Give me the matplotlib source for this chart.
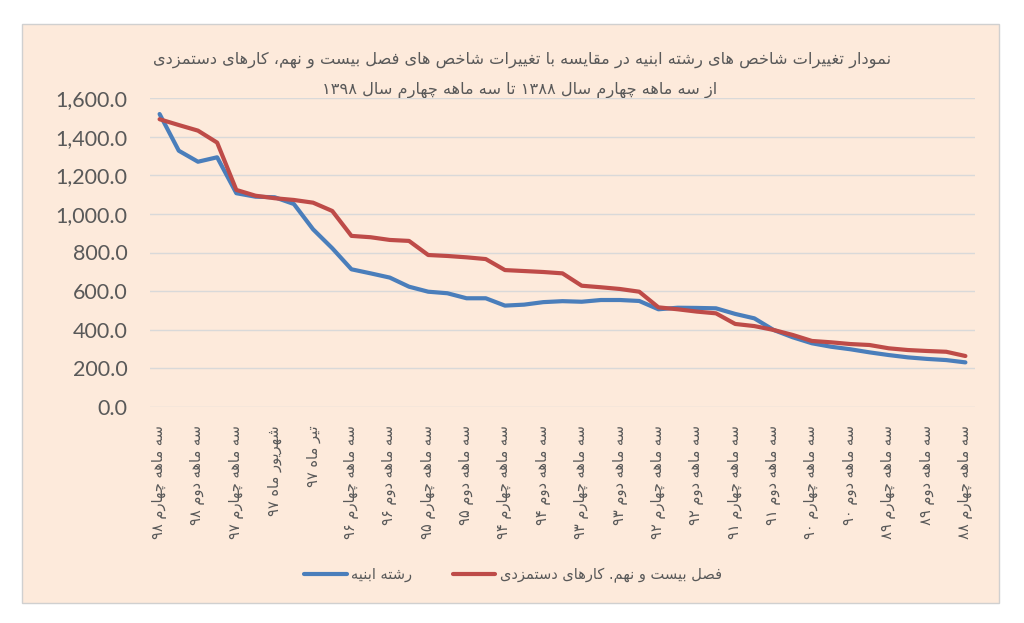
import matplotlib
matplotlib.use('Agg')
import matplotlib.pyplot as plt
from matplotlib.lines import Line2D
from matplotlib.patches import Rectangle
from matplotlib.ticker import FuncFormatter, MultipleLocator

# ---------------- data ----------------
categories = [
    "سه ماهه چهارم ۹۸", "سه ماهه سوم ۹۸", "سه ماهه دوم ۹۸", "سه ماهه اول ۹۸",
    "سه ماهه چهارم ۹۷", "سه ماهه سوم ۹۷", "شهریور ماه ۹۷", "مرداد ماه ۹۷",
    "تیر ماه ۹۷", "سه ماهه اول ۹۷",
    "سه ماهه چهارم ۹۶", "سه ماهه سوم ۹۶", "سه ماهه دوم ۹۶", "سه ماهه اول ۹۶",
    "سه ماهه چهارم ۹۵", "سه ماهه سوم ۹۵", "سه ماهه دوم ۹۵", "سه ماهه اول ۹۵",
    "سه ماهه چهارم ۹۴", "سه ماهه سوم ۹۴", "سه ماهه دوم ۹۴", "سه ماهه اول ۹۴",
    "سه ماهه چهارم ۹۳", "سه ماهه سوم ۹۳", "سه ماهه دوم ۹۳", "سه ماهه اول ۹۳",
    "سه ماهه چهارم ۹۲", "سه ماهه سوم ۹۲", "سه ماهه دوم ۹۲", "سه ماهه اول ۹۲",
    "سه ماهه چهارم ۹۱", "سه ماهه سوم ۹۱", "سه ماهه دوم ۹۱", "سه ماهه اول ۹۱",
    "سه ماهه چهارم ۹۰", "سه ماهه سوم ۹۰", "سه ماهه دوم ۹۰", "سه ماهه اول ۹۰",
    "سه ماهه چهارم ۸۹", "سه ماهه سوم ۸۹", "سه ماهه دوم ۸۹", "سه ماهه اول ۸۹",
    "سه ماهه چهارم ۸۸",
]

abnieh = [1517, 1327, 1270, 1293, 1107, 1089, 1086, 1051, 920, 822,
          713, 692, 670, 623, 597, 589, 563, 563, 525, 530,
          543, 548, 545, 554, 554, 549, 506, 514, 513, 511,
          482, 459, 399, 361, 330, 312, 299, 283, 269, 257,
          249, 243, 231]

dastmozdi = [1490, 1460, 1431, 1369, 1124, 1094, 1081, 1072, 1058, 1015,
             886, 879, 865, 860, 787, 782, 775, 766, 709, 704,
             699, 692, 628, 620, 611, 597, 516, 506, 494, 485,
             430, 419, 399, 373, 342, 335, 326, 321, 304, 295,
             290, 286, 264]

series_names = ["رشته ابنیه", "فصل بیست و نهم. کارهای دستمزدی"]
title_line1 = "نمودار تغییرات شاخص های رشته ابنیه در مقایسه با تغییرات شاخص های فصل بیست و نهم، کارهای دستمزدی"
title_line2 = "از سه ماهه چهارم سال ۱۳۸۸ تا سه ماهه چهارم سال ۱۳۹۸"

# ---------------- minimal Arabic/Persian shaping + bidi ----------------
_FORMS = {
    'ا': (0xFE8D, 0xFE8E, None, None), 'آ': (0xFE81, 0xFE82, None, None),
    'ب': (0xFE8F, 0xFE90, 0xFE91, 0xFE92), 'ت': (0xFE95, 0xFE96, 0xFE97, 0xFE98),
    'ث': (0xFE99, 0xFE9A, 0xFE9B, 0xFE9C), 'ج': (0xFE9D, 0xFE9E, 0xFE9F, 0xFEA0),
    'ح': (0xFEA1, 0xFEA2, 0xFEA3, 0xFEA4), 'خ': (0xFEA5, 0xFEA6, 0xFEA7, 0xFEA8),
    'د': (0xFEA9, 0xFEAA, None, None), 'ذ': (0xFEAB, 0xFEAC, None, None),
    'ر': (0xFEAD, 0xFEAE, None, None), 'ز': (0xFEAF, 0xFEB0, None, None),
    'س': (0xFEB1, 0xFEB2, 0xFEB3, 0xFEB4), 'ش': (0xFEB5, 0xFEB6, 0xFEB7, 0xFEB8),
    'ص': (0xFEB9, 0xFEBA, 0xFEBB, 0xFEBC), 'ض': (0xFEBD, 0xFEBE, 0xFEBF, 0xFEC0),
    'ط': (0xFEC1, 0xFEC2, 0xFEC3, 0xFEC4), 'ظ': (0xFEC5, 0xFEC6, 0xFEC7, 0xFEC8),
    'ع': (0xFEC9, 0xFECA, 0xFECB, 0xFECC), 'غ': (0xFECD, 0xFECE, 0xFECF, 0xFED0),
    'ف': (0xFED1, 0xFED2, 0xFED3, 0xFED4), 'ق': (0xFED5, 0xFED6, 0xFED7, 0xFED8),
    'ل': (0xFEDD, 0xFEDE, 0xFEDF, 0xFEE0), 'م': (0xFEE1, 0xFEE2, 0xFEE3, 0xFEE4),
    'ن': (0xFEE5, 0xFEE6, 0xFEE7, 0xFEE8), 'ه': (0xFEE9, 0xFEEA, 0xFEEB, 0xFEEC),
    'و': (0xFEED, 0xFEEE, None, None), 'ي': (0xFEF1, 0xFEF2, 0xFEF3, 0xFEF4),
    'پ': (0xFB56, 0xFB57, 0xFB58, 0xFB59), 'چ': (0xFB7A, 0xFB7B, 0xFB7C, 0xFB7D),
    'ژ': (0xFB8A, 0xFB8B, None, None), 'ک': (0xFB8E, 0xFB8F, 0xFB90, 0xFB91),
    'گ': (0xFB92, 0xFB93, 0xFB94, 0xFB95), 'ی': (0xFBFC, 0xFBFD, 0xFBFE, 0xFBFF),
}


def _joins_next(ch):
    f = _FORMS.get(ch)
    return f is not None and f[2] is not None


def shape(text):
    out = []
    n = len(text)
    for i, ch in enumerate(text):
        f = _FORMS.get(ch)
        if f is None:
            out.append(ch)
            continue
        prev_c = i > 0 and _joins_next(text[i - 1])
        next_c = (f[2] is not None) and i + 1 < n and text[i + 1] in _FORMS
        if prev_c and next_c:
            code = f[3]
        elif prev_c:
            code = f[1]
        elif next_c:
            code = f[2]
        else:
            code = f[0]
        out.append(chr(code))
    s = ''.join(out)
    # visual order: reverse, keeping digit runs left-to-right
    rev = s[::-1]
    res, run = [], []
    for ch in rev:
        if ch.isdigit():
            run.append(ch)
        else:
            if run:
                res.append(''.join(run[::-1]))
                run = []
            res.append(ch)
    if run:
        res.append(''.join(run[::-1]))
    return ''.join(res)


# ---------------- figure ----------------
BG = '#FDEADB'
BLUE = '#4A7EBB'
RED = '#BE4B48'
TXT = '#595959'

fig = plt.figure(figsize=(10.24, 6.23), dpi=100, facecolor='white')
fig.patches.append(Rectangle((22 / 1024, 1 - 603 / 623), (999 - 22) / 1024, (603 - 24) / 623,
                             transform=fig.transFigure, facecolor=BG, edgecolor='#D0D0D0',
                             linewidth=1.0, zorder=-10))

ax = fig.add_axes([150 / 1024, 1 - 407 / 623, (975 - 150) / 1024, (407 - 98) / 623])
ax.set_facecolor('none')
ax.set_zorder(5)

x = list(range(len(categories)))
ax.plot(x, abnieh, color=BLUE, lw=3.0, solid_joinstyle='round', solid_capstyle='round', zorder=3)
ax.plot(x, dastmozdi, color=RED, lw=3.0, solid_joinstyle='round', solid_capstyle='round', zorder=3)

ax.set_xlim(-0.5, len(categories) - 0.5)
ax.set_ylim(0, 1600)
ax.yaxis.set_major_locator(MultipleLocator(200))
ax.yaxis.set_major_formatter(FuncFormatter(lambda v, p: f'{v:,.1f}'))
ax.grid(axis='y', color='#D9D9D9', lw=1.0)
ax.set_axisbelow(True)
for s in ax.spines.values():
    s.set_visible(False)

ax.tick_params(axis='y', length=0, pad=16, labelsize=15.5, labelcolor=TXT)
for lab in ax.get_yticklabels():
    lab.set_family(['Lato', 'DejaVu Sans'])

ax.set_xticks(x[::2])
ax.set_xticklabels([shape(c) for c in categories[::2]], rotation=90, family='DejaVu Sans',
                   fontsize=10.5, color=TXT, ha='center', va='top')
ax.tick_params(axis='x', length=0, pad=13)

fig.text(522 / 1024, 1 - 60 / 623, shape(title_line1), ha='center', va='center',
         fontsize=11.7, color=TXT, family='DejaVu Sans')
fig.text(520 / 1024, 1 - 90 / 623, shape(title_line2), ha='center', va='center',
         fontsize=11.7, color=TXT, family='DejaVu Sans')

handles = [Line2D([], [], color=BLUE, lw=3, solid_capstyle='round'),
           Line2D([], [], color=RED, lw=3, solid_capstyle='round')]
leg = fig.legend(handles, [shape(n) for n in series_names], loc='center',
                 bbox_to_anchor=(513 / 1024, 1 - 575 / 623), ncol=2, frameon=False,
                 fontsize=10.5, handlelength=2.9, columnspacing=2.8, handletextpad=0.3)
for t in leg.get_texts():
    t.set_color(TXT)
    t.set_family('DejaVu Sans')

fig.savefig('out.png', dpi=100, facecolor='white')
